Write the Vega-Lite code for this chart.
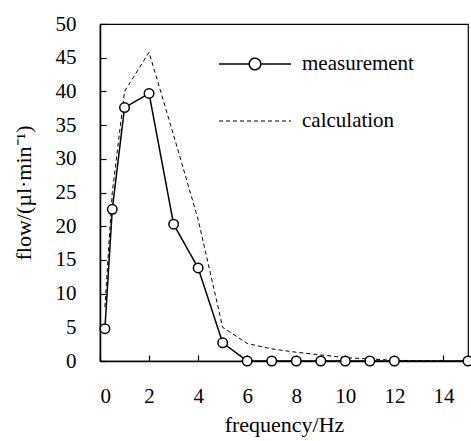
{
  "$schema": "https://vega.github.io/schema/vega-lite/v6.json",
  "width": 368,
  "height": 337,
  "autosize": "none",
  "padding": {"left": 100, "top": 24, "right": 3, "bottom": 80},
  "background": "white",
  "config": {
    "view": {"stroke": "black", "strokeWidth": 1.2},
    "font": "Liberation Serif"
  },
  "data": {
    "values": [
      {"f": 0.2, "v": 4.8, "series": "measurement"},
      {"f": 0.5, "v": 22.5, "series": "measurement"},
      {"f": 1, "v": 37.6, "series": "measurement"},
      {"f": 2, "v": 39.7, "series": "measurement"},
      {"f": 3, "v": 20.3, "series": "measurement"},
      {"f": 4, "v": 13.8, "series": "measurement"},
      {"f": 5, "v": 2.7, "series": "measurement"},
      {"f": 6, "v": 0, "series": "measurement"},
      {"f": 7, "v": 0, "series": "measurement"},
      {"f": 8, "v": 0, "series": "measurement"},
      {"f": 9, "v": 0, "series": "measurement"},
      {"f": 10, "v": 0, "series": "measurement"},
      {"f": 11, "v": 0, "series": "measurement"},
      {"f": 12, "v": 0, "series": "measurement"},
      {"f": 15, "v": 0, "series": "measurement"},
      {"f": 0.2, "v": 8, "series": "calculation"},
      {"f": 0.5, "v": 25, "series": "calculation"},
      {"f": 1, "v": 40, "series": "calculation"},
      {"f": 2, "v": 45.8, "series": "calculation"},
      {"f": 3, "v": 33.5, "series": "calculation"},
      {"f": 4, "v": 21, "series": "calculation"},
      {"f": 5, "v": 5, "series": "calculation"},
      {"f": 6, "v": 2.6, "series": "calculation"},
      {"f": 7, "v": 1.8, "series": "calculation"},
      {"f": 8, "v": 1.3, "series": "calculation"},
      {"f": 9, "v": 0.9, "series": "calculation"},
      {"f": 10, "v": 0.5, "series": "calculation"},
      {"f": 11, "v": 0.3, "series": "calculation"},
      {"f": 12, "v": 0.1, "series": "calculation"},
      {"f": 14, "v": 0, "series": "calculation"}
    ]
  },
  "encoding": {
    "x": {
      "field": "f", "type": "quantitative",
      "scale": {"domain": [0, 15], "nice": false, "zero": false},
      "axis": {
        "title": "frequency/Hz", "values": [0, 2, 4, 6, 8, 10, 12, 14],
        "grid": false, "domain": true, "domainColor": "black", "domainWidth": 1.5,
        "tickColor": "black", "tickSize": -6, "tickWidth": 1.2, "labelPadding": 30,
        "labelFont": "Liberation Serif", "labelFontSize": 21, "labelColor": "black",
        "titleFont": "Liberation Serif", "titleFontSize": 22, "titleFontWeight": "normal",
        "titleColor": "black", "titlePadding": 8
      }
    },
    "y": {
      "field": "v", "type": "quantitative",
      "scale": {"domain": [0, 50], "nice": false},
      "axis": {
        "title": "flow/(µl·min⁻¹)", "values": [0, 5, 10, 15, 20, 25, 30, 35, 40, 45, 50],
        "grid": false, "domain": true, "domainColor": "black", "domainWidth": 1.5,
        "tickColor": "black", "tickSize": -6, "tickWidth": 1.2, "labelPadding": 30,
        "labelFont": "Liberation Serif", "labelFontSize": 21, "labelColor": "black",
        "titleFont": "Liberation Serif", "titleFontSize": 22, "titleFontWeight": "normal",
        "titleColor": "black", "titlePadding": 20
      }
    }
  },
  "layer": [
    {
      "mark": {"type": "line", "color": "black"},
      "encoding": {
        "strokeDash": {
          "field": "series", "type": "nominal",
          "scale": {"domain": ["measurement", "calculation"], "range": [[1, 0], [4, 3]]},
          "legend": {
            "title": null, "orient": "none", "legendX": 118, "legendY": 30,
            "symbolType": "stroke", "symbolSize": 5184, "symbolStrokeWidth": 1.2,
            "symbolStrokeColor": "black", "clipHeight": 20, "rowPadding": 36,
            "labelFont": "Liberation Serif", "labelFontSize": 21, "labelColor": "black",
            "labelOffset": 10,
            "encode": {
              "symbols": {
                "update": {
                  "shape": {"signal": "datum.value === 'measurement' ? 'M-1,0L-0.16,0M0.16,0L1,0M0.16,0A0.16,0.16,0,1,1,-0.16,0A0.16,0.16,0,1,1,0.16,0' : 'stroke'"}
                }
              }
            }
          }
        },
        "strokeWidth": {
          "field": "series", "type": "nominal",
          "scale": {"domain": ["measurement", "calculation"], "range": [1.5, 1]},
          "legend": null
        }
      }
    },
    {
      "transform": [{"filter": "datum.series === 'measurement'"}],
      "mark": {"type": "point", "shape": "circle", "filled": true, "fill": "white", "stroke": "black", "strokeWidth": 1.5, "size": 90, "opacity": 1}
    }
  ]
}
